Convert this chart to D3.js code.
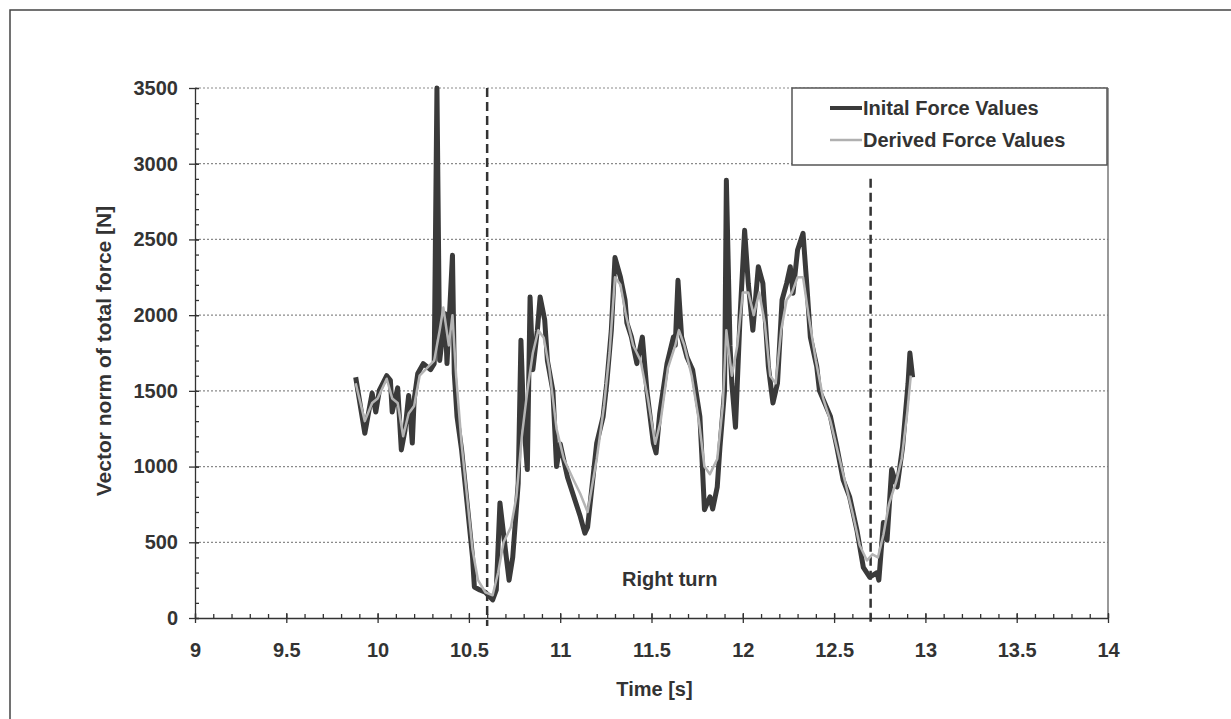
<!DOCTYPE html>
<html>
<head>
<meta charset="utf-8">
<script src="https://cdn.jsdelivr.net/npm/d3@7"></script>
<style>
  body { margin: 0; background: #fff; }
  text { font-family: "Liberation Sans", Arial, sans-serif; font-weight: bold; fill: #333; }
</style>
</head>
<body>
<div id="chart"></div>
<script>
const initialTime = [9.88, 9.93, 9.97, 9.99, 10.01, 10.05, 10.07, 10.08, 10.11, 10.13, 10.15, 10.17, 10.19, 10.20, 10.22, 10.25, 10.29, 10.31,
  10.325, 10.34, 10.37, 10.38, 10.41, 10.42, 10.435, 10.46, 10.49, 10.52, 10.53, 10.56, 10.59, 10.63, 10.65, 10.67, 10.70, 10.72, 10.74,
  10.77, 10.785, 10.80, 10.82, 10.835, 10.85, 10.875, 10.89, 10.915, 10.93, 10.96, 10.98, 11.00, 11.04, 11.11, 11.135, 11.15, 11.20,
  11.235, 11.255, 11.28, 11.30, 11.33, 11.355, 11.365, 11.39, 11.42, 11.45, 11.475, 11.51, 11.525, 11.545, 11.585, 11.62, 11.63, 11.645,
  11.665, 11.695, 11.725, 11.765, 11.775, 11.79, 11.82, 11.835, 11.86, 11.875, 11.90, 11.91, 11.93, 11.94, 11.96, 11.985, 12.01, 12.03,
  12.055, 12.085, 12.11, 12.14, 12.165, 12.19, 12.215, 12.24, 12.26, 12.275, 12.30, 12.33, 12.35, 12.37, 12.405, 12.42, 12.48, 12.515,
  12.55, 12.585, 12.625, 12.66, 12.695, 12.735, 12.745, 12.77, 12.79, 12.815, 12.845, 12.875, 12.905, 12.915, 12.93];
const initialForce = [1590, 1220, 1485, 1360, 1505, 1600, 1570, 1360, 1520, 1110, 1240, 1470, 1155, 1440, 1615, 1680, 1640, 1680,
  3500, 1700, 2010, 1680, 2395, 1615, 1330, 1110, 760, 400, 205, 185, 170, 120, 185, 760, 450, 250, 400,
  890, 1835, 1300, 980, 2120, 1640, 1900, 2120, 1970, 1700, 1500, 1000, 1150, 930, 670, 560, 600, 1155,
  1330, 1550, 1900, 2380, 2250, 2100, 1950, 1855, 1680, 1855, 1500, 1155, 1090, 1350, 1680, 1855, 1800, 2230,
  1855, 1720, 1640, 1330, 1090, 715, 800, 720, 865, 1130, 1500, 2890, 1800, 1550, 1260, 1990, 2560, 2210,
  1900, 2320, 2210, 1660, 1420, 1550, 2100, 2210, 2320, 2145, 2430, 2540, 2210, 1855, 1660, 1500, 1330, 1130,
  910, 800, 580, 335, 270, 300, 250, 630, 515, 980, 865, 1130, 1550, 1750, 1590];

// derived (smoothed) force
const derivedTime = [9.88, 9.93, 9.97, 10.0, 10.05, 10.08, 10.11, 10.14, 10.17, 10.2, 10.23, 10.27, 10.31, 10.34, 10.36, 10.39, 10.41,
  10.43, 10.46, 10.49, 10.52, 10.55, 10.59, 10.63, 10.66, 10.69, 10.73, 10.76, 10.79, 10.82, 10.85, 10.88, 10.91, 10.94, 10.98, 11.02,
  11.07, 11.11, 11.15, 11.2, 11.24, 11.27, 11.3, 11.33, 11.36, 11.4, 11.44, 11.48, 11.52, 11.55, 11.59, 11.63, 11.65, 11.68, 11.72,
  11.76, 11.79, 11.82, 11.86, 11.89, 11.91, 11.94, 11.97, 12.0, 12.03, 12.06, 12.09, 12.12, 12.15, 12.18, 12.21, 12.24, 12.27, 12.3,
  12.33, 12.36, 12.4, 12.44, 12.48, 12.52, 12.56, 12.6, 12.64, 12.68, 12.71, 12.74, 12.77, 12.8, 12.84, 12.87, 12.9, 12.92];
const derivedForce = [1550, 1300, 1420, 1450, 1580, 1450, 1420, 1200, 1350, 1400, 1600, 1650, 1700, 1900, 2050, 1800, 2000,
  1600, 1150, 800, 450, 250, 170, 150, 300, 500, 600, 800, 1200, 1500, 1750, 1900, 1850, 1650, 1250, 1050,
  920, 820, 700, 1050, 1400, 1750, 2250, 2200, 2000, 1800, 1700, 1450, 1150, 1300, 1650, 1800, 1900, 1800, 1600,
  1300, 1000, 950, 1050, 1400, 1900, 1600, 1800, 2150, 2150, 2000, 2150, 1950, 1600, 1550, 1900, 2100, 2150, 2250,
  2250, 2000, 1700, 1450, 1300, 1100, 900, 700, 480, 380, 420, 400, 550, 750, 900, 1050, 1350, 1600];

const seriesNames = ["Inital Force Values", "Derived Force Values"];
const xTicks = [9, 9.5, 10, 10.5, 11, 11.5, 12, 12.5, 13, 13.5, 14];
const yTicks = [0, 500, 1000, 1500, 2000, 2500, 3000, 3500];
const markerTimes = [10.6, 12.7];
const markerTops = [3500, 2900];

const W = 1231, H = 719;
const margin = {top: 88, right: 123, bottom: 101, left: 195};
const width = W - margin.left - margin.right,
      height = H - margin.top - margin.bottom;

const svg = d3.select("#chart").append("svg")
  .attr("width", W).attr("height", H);

// scanned page frame
svg.append("rect")
  .attr("x", 10).attr("y", 10).attr("width", W + 20).attr("height", H + 20)
  .attr("fill", "none").attr("stroke", "#444").attr("stroke-width", 1.5);

const g = svg.append("g").attr("transform", `translate(${margin.left},${margin.top})`);

const x = d3.scaleLinear().domain([9, 14]).range([0, width]);
const y = d3.scaleLinear().domain([0, 3500]).range([height, 0]);

// grid
g.append("g").selectAll("line").data(yTicks.filter(d => d > 0)).join("line")
  .attr("x1", 0).attr("x2", width)
  .attr("y1", d => y(d)).attr("y2", d => y(d))
  .attr("stroke", "#8a8a8a").attr("stroke-width", 1.2).attr("stroke-dasharray", "2,2");
g.append("line")
  .attr("x1", width).attr("x2", width).attr("y1", 0).attr("y2", height)
  .attr("stroke", "#777").attr("stroke-width", 1.5);

// minor ticks
const xMinor = g.append("g").attr("transform", `translate(0,${height})`)
  .call(d3.axisBottom(x).tickValues(d3.range(9, 14.001, 0.1)).tickSize(-4).tickFormat(""))
  .call(a => a.select(".domain").remove());
const yMinor = g.append("g")
  .call(d3.axisLeft(y).tickValues(d3.range(0, 3501, 100)).tickSize(-4).tickFormat(""))
  .call(a => a.select(".domain").remove());

// major axes
const xAxis = g.append("g").attr("transform", `translate(0,${height})`)
  .call(d3.axisBottom(x).tickValues(xTicks).tickSizeInner(5).tickSizeOuter(0).tickPadding(20).tickFormat(d3.format("")))
  .call(a => a.selectAll(".tick line").attr("y1", -5));
const yAxis = g.append("g")
  .call(d3.axisLeft(y).tickValues(yTicks).tickSizeInner(6).tickSizeOuter(0).tickPadding(11).tickFormat(d3.format("d")))
  .call(a => a.selectAll(".tick line").attr("x1", 4));

[xMinor, yMinor, xAxis, yAxis].forEach(a => {
  a.selectAll("line, path").attr("stroke", "#333").attr("stroke-width", 1.3);
  a.selectAll("text").attr("font-size", 20).attr("fill", "#333").attr("font-family", null);
});

// axis titles
svg.append("text")
  .attr("transform", `translate(111,${margin.top + height / 2 - 2}) rotate(-90)`)
  .attr("text-anchor", "middle").attr("font-size", 21)
  .text("Vector norm of total force [N]");
svg.append("text")
  .attr("x", margin.left + width / 2 + 3).attr("y", 696)
  .attr("text-anchor", "middle").attr("font-size", 20)
  .text("Time [s]");

// event markers
g.append("g").selectAll("line").data(markerTimes).join("line")
  .attr("x1", d => x(d)).attr("x2", d => x(d))
  .attr("y1", (d, i) => y(markerTops[i])).attr("y2", height + 8)
  .attr("stroke", "#333").attr("stroke-width", 2.5).attr("stroke-dasharray", "9,5");

const line = d3.line().x(d => x(d[0])).y(d => y(d[1]));
const initialData = initialTime.map((t, i) => [t, initialForce[i]]);
const derivedData = derivedTime.map((t, i) => [t, derivedForce[i]]);

g.append("path").datum(initialData)
  .attr("d", line).attr("fill", "none")
  .attr("stroke", "#3a3a3a").attr("stroke-width", 5).attr("stroke-linejoin", "round");
g.append("path").datum(derivedData)
  .attr("d", line).attr("fill", "none")
  .attr("stroke", "#b4b4b4").attr("stroke-width", 2.5).attr("stroke-linejoin", "round");

g.append("text")
  .attr("x", x(11.6)).attr("y", y(260) + 7)
  .attr("text-anchor", "middle").attr("font-size", 20)
  .text("Right turn");

// legend
const legend = svg.append("g").attr("transform", "translate(792,88)");
legend.append("rect").attr("width", 315).attr("height", 77)
  .attr("fill", "#fff").attr("stroke", "#555").attr("stroke-width", 1.5);
const legendStyles = [{c: "#3a3a3a", w: 4}, {c: "#b0b0b0", w: 2.5}];
seriesNames.forEach((name, i) => {
  const row = legend.append("g").attr("transform", `translate(0,${20 + i * 32})`);
  row.append("line").attr("x1", 38).attr("x2", 70)
    .attr("stroke", legendStyles[i].c).attr("stroke-width", legendStyles[i].w);
  row.append("text").attr("x", 71).attr("y", 7).attr("font-size", 20).text(name);
});
</script>
</body>
</html>
